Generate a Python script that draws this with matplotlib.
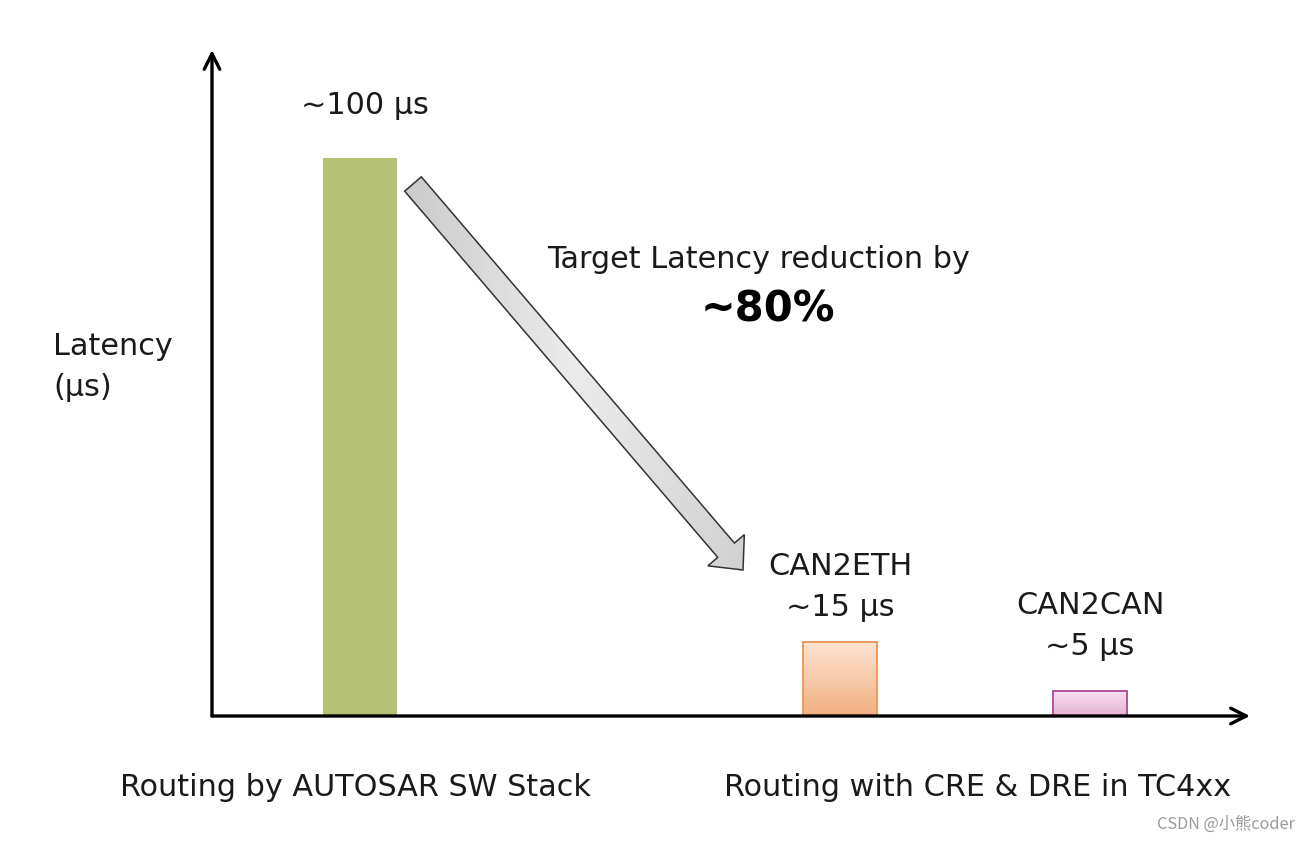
import numpy as np
import matplotlib
matplotlib.use('Agg')
import matplotlib.pyplot as plt
from matplotlib.patches import FancyArrow

# data (bar heights relative to the AUTOSAR bar = 100)
bar_names = ['AUTOSAR', 'CAN2ETH', 'CAN2CAN']
bar_x = [148, 628, 878]
bar_height = [100, 13.3, 4.5]
bar_labels = ['~100 µs', 'CAN2ETH\n~15 µs', 'CAN2CAN\n~5 µs']
group_labels = ['Routing by AUTOSAR SW Stack', 'Routing with CRE & DRE in TC4xx']

W, H = 1310, 842
fig = plt.figure(figsize=(W / 100, H / 100), dpi=100)

# axes placed so its origin sits at the drawn axis corner
x0, y0, x1, y1 = 212, 716, 1250, 50
ax = fig.add_axes([x0 / W, (H - y0) / H, (x1 - x0) / W, (y0 - y1) / H])
ax.set_xlim(0, x1 - x0)
ax.set_ylim(0, (y0 - y1) / 5.58)
ax.axis('off')

# bars: green solid, the others with a light vertical gradient
fills = [None,
         ('#fbe4d4', '#f3b081', '#ec9a60'),
         ('#f8e2ef', '#e6b0d3', '#b4529c')]
bars = ax.bar(bar_x, bar_height, width=74, color='#b3c075', zorder=2)
for b, f in zip(bars, fills):
    if f is None:
        continue
    top, bot, edge = f
    b.set_facecolor('none')
    b.set_edgecolor(edge)
    b.set_linewidth(1.4)
    grad = np.linspace(0, 1, 64).reshape(-1, 1)
    cmap = matplotlib.colors.LinearSegmentedColormap.from_list('g', [top, bot])
    xb, wb, hb = b.get_x(), b.get_width(), b.get_height()
    im = ax.imshow(grad, cmap=cmap, aspect='auto', origin='upper',
                   extent=(xb, xb + wb, 0, hb), zorder=1)
    im.set_clip_path(b)
ax.set_xlim(0, x1 - x0)
ax.set_ylim(0, (y0 - y1) / 5.58)

# axis arrows
arw = dict(arrowstyle='->', lw=2.4, color='black', mutation_scale=28,
           shrinkA=0, shrinkB=0)
ax.annotate('', xy=(0, 1), xytext=(0, 0), xycoords='axes fraction',
            arrowprops=arw, annotation_clip=False)
ax.annotate('', xy=(1, 0), xytext=(0, 0), xycoords='axes fraction',
            arrowprops=arw, annotation_clip=False)

# pixel-space overlay for the text and the big arrow
ov = fig.add_axes([0, 0, 1, 1], zorder=5)
ov.set_xlim(0, W)
ov.set_ylim(H, 0)
ov.axis('off')
ov.patch.set_alpha(0)

big = FancyArrow(413, 184, 330, 386, width=22, head_width=48,
                 head_length=26, length_includes_head=True,
                 facecolor='none', edgecolor='#333333', lw=1.1, zorder=3)
ov.add_patch(big)
# soft grey gradient across the arrow
gx = np.linspace(0, 1, 64).reshape(1, -1)
gcmap = matplotlib.colors.LinearSegmentedColormap.from_list(
    'a', ['#c8c8c8', '#ececec', '#cfcfcf'])
gim = ov.imshow(gx, cmap=gcmap, aspect='auto',
                extent=(390, 760, 590, 160), zorder=2)
gim.set_clip_path(big)
ov.set_xlim(0, W)
ov.set_ylim(H, 0)

fs = 21.8
ls = 1.56
txt = dict(fontsize=fs, color='#1a1a1a', family='DejaVu Sans')
ov.text(365, 105, bar_labels[0], ha='center', va='center', **txt)
ov.text(840, 587, bar_labels[1], ha='center', va='center', linespacing=ls, **txt)
ov.text(1090, 626, bar_labels[2], ha='center', va='center', linespacing=ls, **txt)
ov.text(53, 367, 'Latency\n(µs)', ha='left', va='center', linespacing=ls, **txt)
ov.text(759, 259, 'Target Latency reduction by', ha='center', va='center', **txt)
ov.text(768, 309, '~80%', ha='center', va='center', fontsize=30,
        fontweight='bold', color='black')
ov.text(355, 787, group_labels[0], ha='center', va='center', **txt)
ov.text(978, 787, group_labels[1], ha='center', va='center', **txt)

ov.text(1295, 824, 'CSDN @小熊coder', ha='right', va='center', fontsize=11.7,
        color='#9a9a9a', family=['Noto Sans CJK SC', 'DejaVu Sans'])

fig.savefig('out.png', dpi=100, facecolor='white')
